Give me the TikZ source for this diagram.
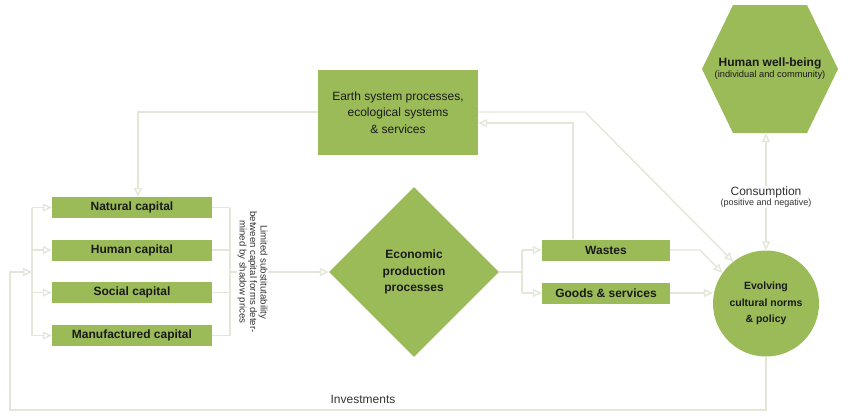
\documentclass[tikz,border=0pt]{standalone}
\usepackage{fontspec}
\setmainfont{Liberation Sans}
\usetikzlibrary{arrows.meta,shapes.geometric}
\definecolor{gr}{HTML}{9BBB59}
\definecolor{ln}{HTML}{E3E6D9}
\definecolor{txt}{HTML}{1A1A1A}
\definecolor{lbl}{HTML}{333333}
\begin{document}
\begin{tikzpicture}[x=1pt,y=-1pt,
  capbox/.style={fill=gr, minimum width=160pt, minimum height=21pt, inner sep=0pt,
    font=\fontsize{12}{14}\selectfont\bfseries, text=txt},
  conn/.style={draw=ln, line width=1.4pt},
  arr/.style={conn, -{Triangle[open, length=9pt, width=8pt]}},
  arrtwo/.style={conn, {Triangle[open, length=9pt, width=8pt]}-{Triangle[open, length=9pt, width=8pt]}},
  lbltext/.style={text=lbl, inner sep=1pt}
]
\useasboundingbox (0,0) rectangle (850,418);

% capital boxes
\node[capbox] (nat) at (132,207.5) {Natural capital};
\node[capbox] (hum) at (132,250) {Human capital};
\node[capbox] (soc) at (132,292.5) {Social capital};
\node[capbox] (man) at (132,335.5) {Manufactured capital};

% earth system box
\node[fill=gr, minimum width=160pt, minimum height=85pt, inner sep=0pt, text=txt,
  align=center, font=\fontsize{12}{16.5}\selectfont] (earth) at (398,112.5)
  {Earth system processes,\\ecological systems\\\& services};

% diamond
\node[diamond, fill=gr, minimum width=170pt, minimum height=170pt, inner sep=0pt,
  text=txt, align=center, font=\fontsize{12}{16.5}\selectfont\bfseries] (dia) at (414,272)
  {Economic\\production\\processes};

% wastes & goods
\node[capbox, minimum width=128pt] (wst) at (606,250) {Wastes};
\node[capbox, minimum width=128pt] (gds) at (606,293) {Goods \& services};

% circle
\node[circle, fill=gr, minimum size=106pt, inner sep=0pt, text=txt, align=center,
  font=\fontsize{10.5}{16.5}\selectfont\bfseries] (circ) at (766,303.5)
  {Evolving\\cultural norms\\\& policy};

% hexagon
\fill[gr] (733,5) -- (807,5) -- (838,69) -- (807,133) -- (733,133) -- (702,69) -- cycle;
\node[minimum width=136pt, minimum height=128pt, inner sep=0pt, text=txt, align=center] (hex) at (770,69)
  {{\fontsize{12}{14}\selectfont\bfseries Human well-being}\\[-1pt]{\fontsize{9.3}{10}\selectfont (individual and community)}};

% coordinates
\coordinate (lb) at (32,0);
\coordinate (rbr) at (230,0);
\coordinate (rb) at (522,0);
\coordinate (invL) at (32,272);
\coordinate (invC) at (10,410);
\coordinate (ex) at (138,112);
\coordinate (eright) at (585,112);
\coordinate (wx) at (573,123);
\coordinate (wbend) at (700,250);

% left bracket and arrows into capital boxes
\draw[conn] (nat.west -| lb) -- (man.west -| lb);
\foreach \b in {nat,hum,soc,man} {\draw[arr] (\b.west -| lb) -- (\b.west);}

% right bracket from capital boxes
\foreach \b in {nat,hum,soc,man} {\draw[conn] (\b.east) -- (\b.east -| rbr);}
\draw[conn] (nat.east -| rbr) -- (man.east -| rbr);
\draw[arr] (invL -| rbr) -- (dia.west);
\node[rotate=-90, fill=white, inner sep=1pt, text=lbl, align=center,
  font=\fontsize{9.6}{10.5}\selectfont] (subst) at (252.5,272)
  {Limited substitutability\\between capital forms deter-\\mined by shadow prices};

% diamond to wastes and goods
\draw[conn] (dia.east) -- (dia.east -| rb);
\draw[conn] (wst.west -| rb) -- (gds.west -| rb);
\draw[arr] (wst.west -| rb) -- (wst.west);
\draw[arr] (gds.west -| rb) -- (gds.west);

% to circle
\draw[arr] (wst.east) -- (wbend) -- (circ.145);
\draw[arr] (gds.east) -- (gds.east -| circ.west);

% earth connections
\draw[arr] (earth.west |- ex) -- (ex) -- (ex |- nat.north);
\draw[arr] (earth.east |- eright) -- (eright) -- (circ.128);
\draw[arr] (wst.north -| wx) -- (wx) -- (wx -| earth.east);

% circle to hexagon
\draw[arrtwo] (circ.north) -- (circ.north |- hex.south);
\node[fill=white, lbltext, align=center] (cons) at (766,197)
  {{\fontsize{12}{13}\selectfont Consumption}\\[-2pt]{\fontsize{9}{9}\selectfont (positive and negative)}};

% investments loop
\draw[arr] (circ.south) |- (invC) |- (invL);
\node[lbltext, font=\fontsize{12}{14}\selectfont] (inv) at (363,399) {Investments};

\end{tikzpicture}
\end{document}
